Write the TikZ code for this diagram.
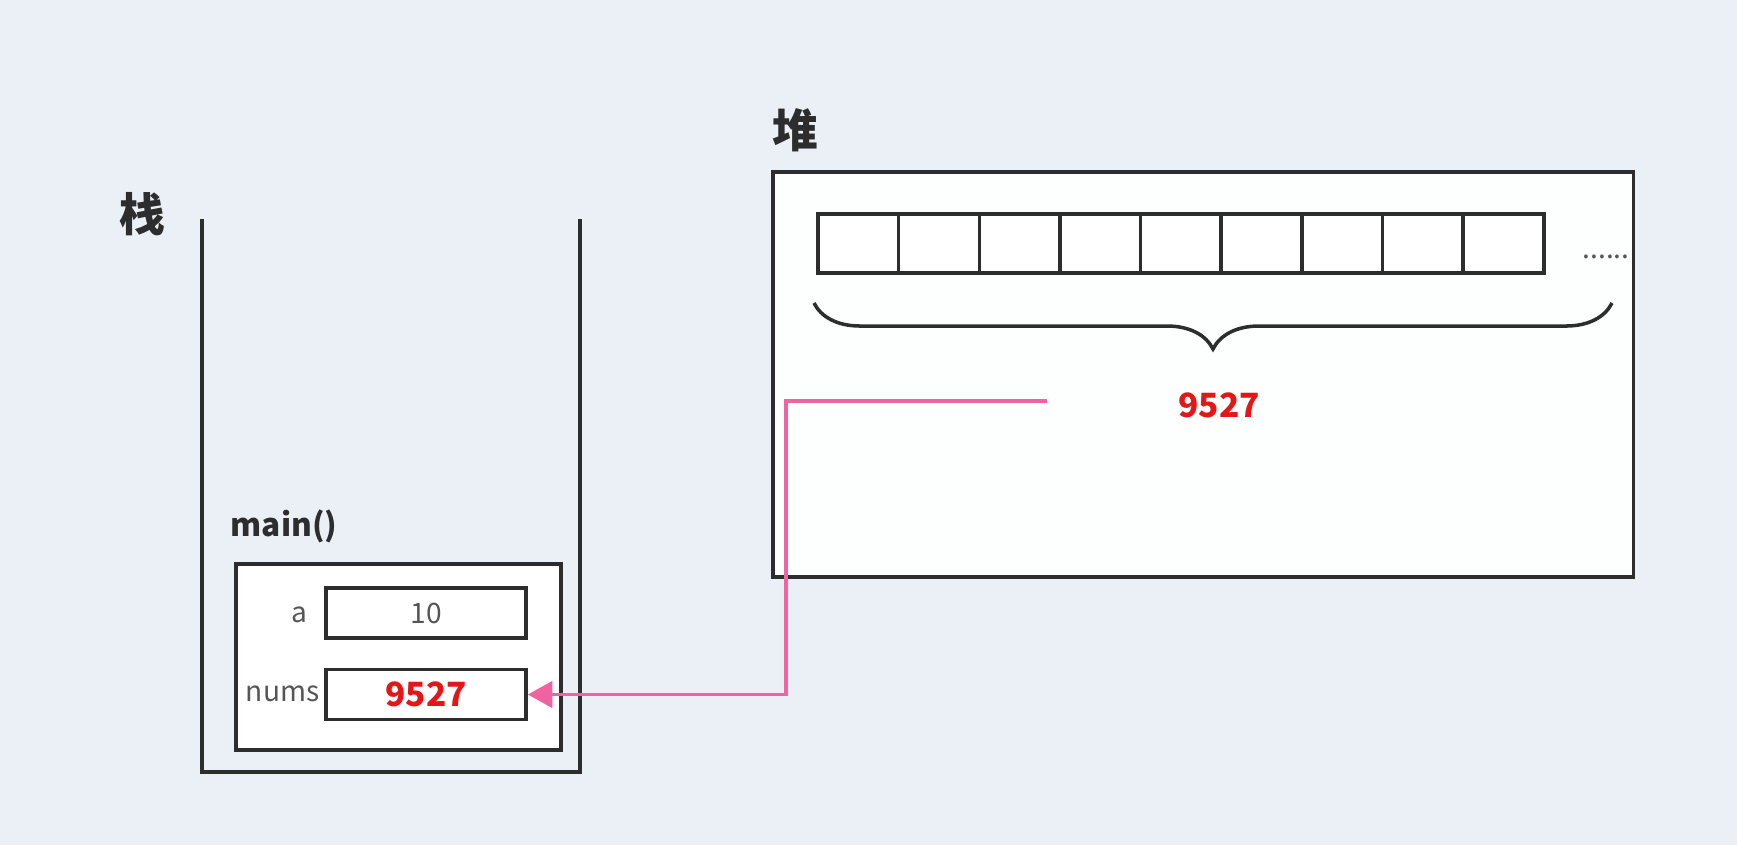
\documentclass[tikz,border=0pt]{standalone}
\usepackage{fontspec}
\setmainfont{Noto Sans CJK SC}
\usepackage{tikz}
\usetikzlibrary{positioning}
\usetikzlibrary{arrows.meta,decorations.pathreplacing}
\definecolor{bgcol}{RGB}{235,240,247}
\definecolor{linecol}{RGB}{45,45,45}
\definecolor{textcol}{RGB}{85,85,85}
\definecolor{addrred}{RGB}{228,22,22}
\definecolor{refpink}{RGB}{240,98,160}
\tikzset{
    memory/.style={x=0.01cm,y=-0.01cm,line width=0.9pt,node distance=0.806cm},
    wall/.style={draw=linecol,line width=1pt},
    region/.style={draw=linecol,fill=white,line width=1pt,inner sep=0pt},
    cell/.style={draw=linecol,fill=white,minimum width=0.806cm,minimum height=0.59cm,inner sep=0pt,line width=1pt},
    varbox/.style={draw=linecol,fill=white,minimum width=2cm,minimum height=0.5cm,inner sep=0pt,line width=1pt},
    title/.style={font=\fontsize{13}{15}\selectfont\bfseries,text=linecol},
    varname/.style={font=\fontsize{8}{9}\selectfont,text=textcol,anchor=east,inner sep=0pt},
    addr/.style={font=\fontsize{9.5}{11}\selectfont\bfseries,text=addrred},
    ref/.style={draw=refpink,line width=1pt,-{Triangle[length=7pt,width=7.5pt]}},
    curly/.style={draw=linecol,line width=1pt,decorate,decoration={brace,mirror,amplitude=0.46cm}},
    }
\begin{document}
\begin{tikzpicture}[memory]
    \fill[bgcol] (0,0) rectangle (1737,845);
    \useasboundingbox (0,0) rectangle (1737,845);

    % stack
    \node[title] (stacklbl) at (142,214) {栈};
    \coordinate (stl) at (202,219);
    \coordinate (sbl) at (202,772);
    \coordinate (sbr) at (580,772);
    \coordinate (str) at (580,219);
    \draw[wall] (stl) -- (sbl) -- (sbr) -- (str);

    \node[font=\fontsize{9}{11}\selectfont\bfseries,text=linecol] (mainlbl) at (284,526) {main()};
    \node[region,minimum width=3.25cm,minimum height=1.86cm] (frame) at (398.5,657) {};
    \node[varbox,font=\fontsize{8}{9}\selectfont,text=textcol] (av) at (426,613) {10};
    \node[varbox,addr] (numsv) at (426,694.5) {9527};
    \node[varname] (an) at (309,615) {a};
    \node[varname] (numsn) at (321,694) {nums};

    % heap
    \node[title] (heaplbl) at (795,130) {堆};
    \node[region,fill=white!60!bgcol!20!white,minimum width=8.6cm,minimum height=4.05cm] (heap) at (1203,374.5) {};
    \node[cell] (c1) at (858.3,243.5) {};
    \node[cell] (c2) [right of=c1] {};
    \node[cell] (c3) [right of=c2] {};
    \node[cell] (c4) [right of=c3] {};
    \node[cell] (c5) [right of=c4] {};
    \node[cell] (c6) [right of=c5] {};
    \node[cell] (c7) [right of=c6] {};
    \node[cell] (c8) [right of=c7] {};
    \node[cell] (c9) [right of=c8] {};
    \node[font=\fontsize{8}{9}\selectfont,text=textcol,anchor=base] (more) at (1606,258) {......};

    \coordinate (bl) at (814,303);
    \coordinate (br) at (1612,303);
    \draw[curly] (bl) -- (br);
    \node[addr] (heapaddr) at (1219,405) {9527};

    % reference
    \coordinate (ptr) at (1047,401);
    \coordinate (bend) at (786,401);
    \draw[ref] (ptr) -- (bend) |- (numsv.east);
\end{tikzpicture}
\end{document}
